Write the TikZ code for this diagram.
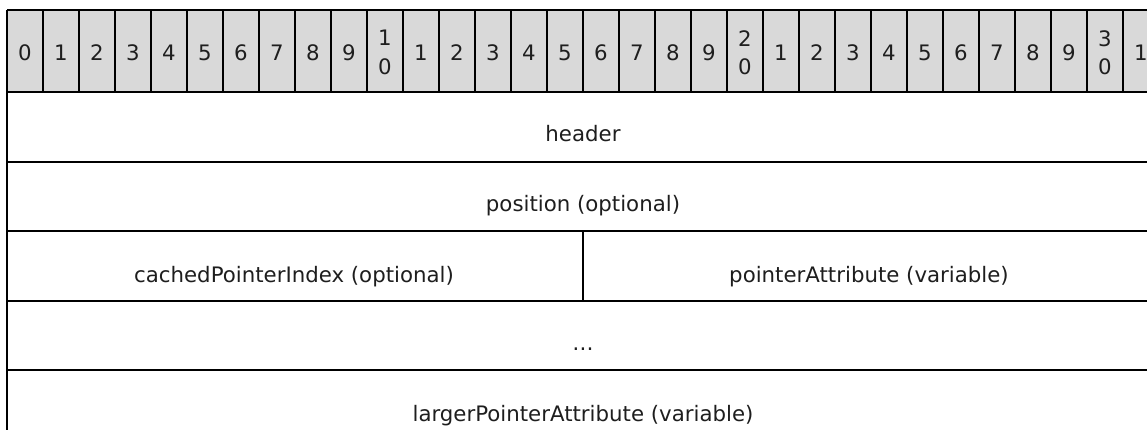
\documentclass[tikz,border=0pt]{standalone}
\usepackage{fontspec}
\setmainfont{DejaVu Sans}
\definecolor{bitgray}{RGB}{217,217,217}
\definecolor{txt}{RGB}{30,30,30}
\begin{document}
\begin{tikzpicture}[x=1pt,y=-1pt,line width=1.6pt,
  lbl/.style={font=\fontsize{21.3}{24}\selectfont,text=txt,anchor=base,inner sep=0pt},
  bit/.style={font=\fontsize{21.3}{28.5}\selectfont,text=txt,align=center,inner sep=0pt},
  rule/.style={draw=black,line width=2.2pt},
  sep/.style={draw=black,line width=1.8pt}]
\useasboundingbox (0,0) rectangle (1147,430);
\clip (0,0) rectangle (1147,430);
% bit number row
\fill[bitgray] (7,10) rectangle (1159,92);
\foreach \i in {1,...,31} \draw[sep] (7+36*\i,10) -- (7+36*\i,92);
\draw[sep,line width=1.4pt] (7,10) -- (1159,10);
\foreach \t [count=\i from 0] in {0,1,2,3,4,5,6,7,8,9,{1\\0},1,2,3,4,5,6,7,8,9,{2\\0},1,2,3,4,5,6,7,8,9,{3\\0},1}
  \node[bit] (b\i) at (25+36*\i,52.5) {\t};
% row rules
\foreach \yy in {92,162,231,301,370} \draw[rule] (7,\yy) -- (1159,\yy);
\draw[rule] (7,10) -- (7,440);
\draw[rule] (1159,10) -- (1159,440);
\draw[rule] (583,231) -- (583,301);
% field labels
\node[lbl] (header) at (583,142) {header};
\node[lbl] (position) at (583,212) {position (optional)};
\node[lbl] (cached) at (294,282) {cachedPointerIndex (optional)};
\node[lbl] (pointer) at (869,282) {pointerAttribute (variable)};
\node[lbl] (dots) at (583,350) {…};
\node[lbl] (larger) at (583,421) {largerPointerAttribute (variable)};
\end{tikzpicture}
\end{document}
